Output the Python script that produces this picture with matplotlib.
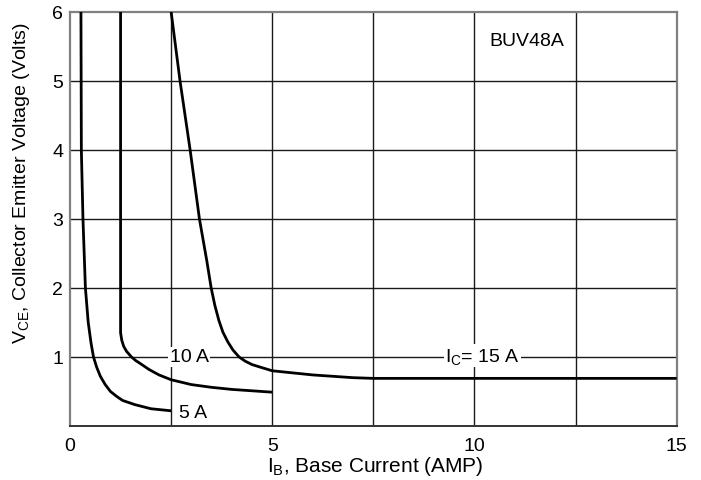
import numpy as np
from matplotlib import pyplot as plt

plt.rcParams['font.family'] = ['Liberation Sans', 'DejaVu Sans']
plt.rcParams['mathtext.default'] = 'regular'

# Curves (IB in amps, VCE in volts).
IB_5A = [0.27, 0.28, 0.32, 0.38, 0.45, 0.52, 0.58, 0.66, 0.75, 0.87, 1.0,
         1.15, 1.3, 1.6, 2.0, 2.5]
VCE_5A = [6.0, 4.0, 3.0, 2.0, 1.5, 1.2, 1.0, 0.85, 0.72, 0.60, 0.50,
          0.43, 0.37, 0.31, 0.25, 0.22]

IB_10A = [1.25, 1.25, 1.28, 1.33, 1.40, 1.52, 1.62, 1.75, 1.95, 2.2, 2.5,
          3.0, 3.5, 4.0, 5.0]
VCE_10A = [6.0, 1.35, 1.24, 1.15, 1.08, 1.0, 0.95, 0.90, 0.82, 0.74, 0.67,
           0.60, 0.56, 0.53, 0.49]

IB_15A = [2.5, 2.72, 2.97, 3.2, 3.38, 3.49, 3.58, 3.68, 3.78, 3.9, 4.03,
          4.18, 4.33, 4.5, 4.72, 5.0, 5.5, 6.0, 7.0, 7.5, 10.0, 15.0]
VCE_15A = [6.0, 5.0, 4.0, 3.0, 2.4, 2.0, 1.75, 1.53, 1.36, 1.22, 1.10,
           1.0, 0.94, 0.89, 0.85, 0.80, 0.77, 0.74, 0.70, 0.69, 0.69, 0.69]

X_TICKS = [0, 5, 10, 15]
Y_TICKS = [1, 2, 3, 4, 5, 6]
X_GRID = [2.5, 5, 7.5, 10, 12.5]
Y_GRID = [1, 2, 3, 4, 5]

FIG = plt.figure(figsize=(7.01, 4.81), dpi=100)
AX = FIG.add_axes([0.0999, 0.1123, 0.8654, 0.8607])

# Grid lines drawn by hand (the scan has no 0/6 lines inside the frame).
for xg in X_GRID:
    AX.axvline(xg, color='#1a1a1a', lw=1.0, zorder=1)
for yg in Y_GRID:
    AX.axhline(yg, color='#1a1a1a', lw=1.0, zorder=1)

# Curves.
for xs, ys in [(IB_5A, VCE_5A), (IB_10A, VCE_10A), (IB_15A, VCE_15A)]:
    AX.plot(xs, ys, color='black', lw=2.0, zorder=3, solid_capstyle='butt',
            solid_joinstyle='round')

# Curve labels.
BOX = dict(facecolor='white', edgecolor='none', pad=1.0)
AX.text(2.95, 1.0, '10 A', fontsize=14, ha='center', va='center',
        bbox=BOX, zorder=4)
AX.text(3.05, 0.2, '5 A', fontsize=14, ha='center', va='center',
        bbox=BOX, zorder=4)
AX.text(10.2, 1.02, '$I_C$= 15 A', fontsize=14, ha='center', va='center',
        bbox=BOX, zorder=4)
AX.text(11.3, 5.58, 'BUV48A', fontsize=14, ha='center', va='center',
        zorder=4)

# Axis limits and ticks.
AX.set_xlim(0, 15)
AX.set_ylim(0, 6)
AX.set_xticks(X_TICKS)
AX.set_yticks(Y_TICKS)
AX.tick_params(length=0, labelsize=14)
AX.tick_params(axis='x', pad=8)
AX.tick_params(axis='y', pad=5)

for side in ['left', 'right', 'top']:
    AX.spines[side].set_color('#808080')
    AX.spines[side].set_linewidth(1.6)
AX.spines['bottom'].set_color('#333333')
AX.spines['bottom'].set_linewidth(1.4)

# Labels.
AX.set_xlabel('$I_B$, Base Current (AMP)', fontsize=15)
AX.set_ylabel('$V_{CE}$, Collector Emitter Voltage (Volts)', fontsize=14)
AX.xaxis.set_label_coords(0.503, -0.068)
AX.yaxis.set_label_coords(-0.062, 0.59)

plt.savefig('out.png', dpi=100)
